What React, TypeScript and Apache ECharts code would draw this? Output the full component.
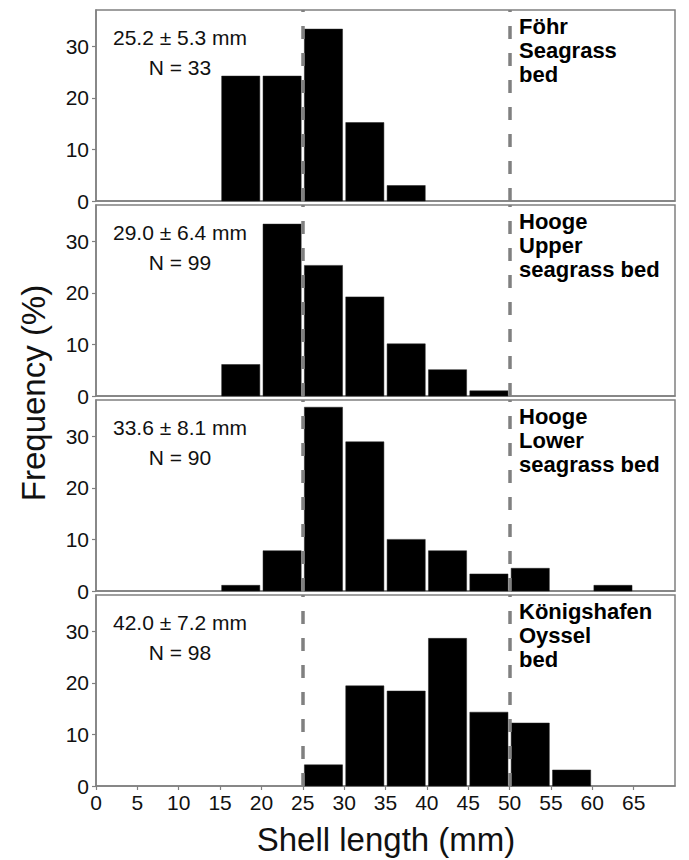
import React, { useEffect, useRef } from "react";
import * as echarts from "echarts";

// Histogram bins (lower edge, mm); each bin is 5 mm wide
const binStart = [15, 20, 25, 30, 35, 40, 45, 50, 55, 60];
const binWidth = 5;

// Frequencies (%) per panel
const fohr = [24.2, 24.2, 33.3, 15.2, 3.0, 0, 0, 0, 0, 0];
const hoogeUpper = [6.1, 33.3, 25.3, 19.2, 10.1, 5.1, 1.0, 0, 0, 0];
const hoogeLower = [1.1, 7.8, 35.6, 28.9, 10.0, 7.8, 3.3, 4.4, 0, 1.1];
const konigshafen = [0, 0, 4.1, 19.4, 18.4, 28.6, 14.3, 12.2, 3.1, 0];

const panelValues = [fohr, hoogeUpper, hoogeLower, konigshafen];
const meanText = ["25.2 ± 5.3 mm", "29.0 ± 6.4 mm", "33.6 ± 8.1 mm", "42.0 ± 7.2 mm"];
const nText = ["N = 33", "N = 99", "N = 90", "N = 98"];
const siteLabels = [
  "Föhr\nSeagrass\nbed",
  "Hooge\nUpper\nseagrass bed",
  "Hooge\nLower\nseagrass bed",
  "Königshafen\nOyssel\nbed",
];
const refLines = [25, 50];
const xTicks = [0, 5, 10, 15, 20, 25, 30, 35, 40, 45, 50, 55, 60, 65];
const yTicks = [0, 10, 20, 30];

const FONT = "'Liberation Sans', Arial, Helvetica, sans-serif";
const GRAY = "#808080";

export default function App() {
  const ref = useRef<HTMLDivElement>(null);
  useEffect(() => {
    if (!ref.current) return;
    const chart = echarts.init(ref.current, undefined, { renderer: "svg" });
    const tops = [10, 205, 400, 595];
    const H = 191;
    const left = 96;
    const width = 579;

    const grids = tops.map((t) => ({
      left,
      top: t,
      width,
      height: H,
      show: true,
      borderColor: GRAY,
      borderWidth: 1.5,
      backgroundColor: "#fff",
    }));

    const xAxes = tops.map((_, i) => ({
      type: "value",
      gridIndex: i,
      min: 0,
      max: 70,
      interval: 5,
      splitLine: { show: false },
      axisLine: { show: true, lineStyle: { color: GRAY, width: 1.5 } },
      axisTick: {
        show: i === 3,
        length: 4,
        lineStyle: { color: GRAY, width: 1.2 },
        customValues: xTicks,
      },
      axisLabel: {
        show: i === 3,
        customValues: xTicks,
        fontSize: 21,
        fontFamily: FONT,
        color: "#111",
        margin: 6,
      },
    }));

    const yAxes = tops.map((_, i) => ({
      type: "value",
      gridIndex: i,
      min: 0,
      max: 37,
      interval: 10,
      splitLine: { show: false },
      axisLine: { show: true, lineStyle: { color: GRAY, width: 1.5 } },
      axisTick: {
        show: true,
        length: 4,
        lineStyle: { color: GRAY, width: 1.2 },
        customValues: yTicks,
      },
      axisLabel: {
        customValues: yTicks,
        fontSize: 21,
        fontFamily: FONT,
        color: "#111",
        margin: 7,
        formatter: (v: number) => (v % 10 === 0 ? String(v) : ""),
      },
    }));

    const series = panelValues.map((vals, i) => ({
      type: "custom",
      xAxisIndex: i,
      yAxisIndex: i,
      encode: { x: [0, 1], y: 2 },
      data: binStart
        .map((s, k) => [s, s + binWidth, vals[k]])
        .filter((d) => d[2] > 0),
      renderItem: (params: any, api: any) => {
        const s = api.value(0);
        const e = api.value(1);
        const v = api.value(2);
        const p0 = api.coord([s, v]);
        const p1 = api.coord([e, 0]);
        return {
          type: "rect",
          shape: {
            x: p0[0] + 1.6,
            y: p0[1],
            width: p1[0] - p0[0] - 3.2,
            height: p1[1] - p0[1],
          },
          style: { fill: "#000", stroke: "#222", lineWidth: 0.5 },
        };
      },
      markLine: {
        silent: true,
        symbol: ["none", "none"],
        label: { show: false },
        z: 10,
        lineStyle: { type: [13, 14], color: GRAY, width: 3.5 },
        data: refLines.map((x) => ({ xAxis: x })),
      },
      z: 2,
    }));

    const graphics: any[] = [];
    tops.forEach((t, i) => {
      graphics.push({
        type: "text",
        x: 180,
        y: t + 12,
        z: 20,
        style: {
          text: meanText[i] + "\n" + nText[i],
          fontSize: 21,
          fontFamily: FONT,
          fill: "#111",
          align: "center",
          verticalAlign: "top",
          lineHeight: 30,
        },
      });
      graphics.push({
        type: "text",
        x: 519,
        y: t + 4,
        z: 20,
        style: {
          text: siteLabels[i],
          fontSize: 22,
          fontWeight: "bold",
          fontFamily: FONT,
          fill: "#000",
          align: "left",
          verticalAlign: "top",
          lineHeight: 24,
        },
      });
    });
    graphics.push({
      type: "text",
      x: 33,
      y: 393,
      rotation: Math.PI / 2,
      style: {
        text: "Frequency (%)",
        fontSize: 33,
        fontFamily: FONT,
        fill: "#111",
        align: "center",
        verticalAlign: "middle",
      },
    });
    graphics.push({
      type: "text",
      x: 386,
      y: 839,
      style: {
        text: "Shell length (mm)",
        fontSize: 33,
        fontFamily: FONT,
        fill: "#111",
        align: "center",
        verticalAlign: "middle",
      },
    });

    chart.setOption({
      animation: false,
      backgroundColor: "#fff",
      grid: grids,
      xAxis: xAxes,
      yAxis: yAxes,
      series,
      graphic: graphics,
    } as any);
    return () => chart.dispose();
  }, []);
  return (
    <div
      ref={ref}
      style={{ position: "fixed", left: 0, top: 0, width: 689, height: 860, background: "#fff" }}
    />
  );
}
